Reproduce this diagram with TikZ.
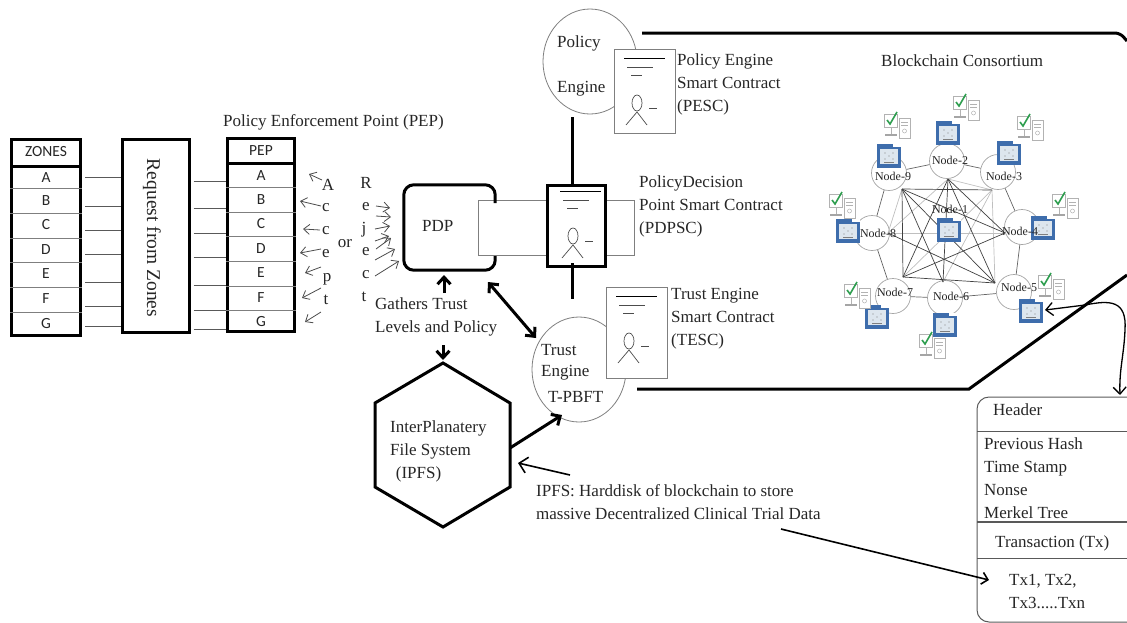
\documentclass[tikz,border=0pt]{standalone}
\usepackage{fontspec}
\setmainfont{Liberation Serif}
\newfontfamily\tablefont{Carlito}
\usetikzlibrary{arrows.meta,shapes.geometric}
\definecolor{inkgray}{HTML}{262626}
\definecolor{thingray}{HTML}{7F7F7F}
\definecolor{netblue}{HTML}{3E6DAC}
\definecolor{netpale}{HTML}{DDE6EE}
\definecolor{netgreen}{HTML}{2E9E4F}
\tikzset{
	label17/.style={inner sep=0pt,anchor=west,align=left,text=inkgray,font=\fontsize{17}{23}\selectfont},
	cell/.style={inner sep=0pt,text=inkgray,font=\tablefont\fontsize{15.5}{18}\selectfont},
	heavybox/.style={draw,line width=3pt,inner sep=0pt},
	thinbox/.style={draw=thingray,line width=0.9pt,fill=white,inner sep=0pt},
	engine/.style={draw=thingray,line width=0.8pt,ellipse,inner sep=0pt,fill=white},
	boldline/.style={line width=3pt},
	boldarrow/.style={line width=3pt,-{Straight Barb[length=7pt,width=13pt]}},
	sketchtip/.style={line width=0.8pt,thingray!60!black,-{Straight Barb[length=6pt,width=10pt]}},
	netnode/.style={draw=thingray!70,line width=0.7pt,circle,minimum size=35pt,inner sep=0pt,fill=white},
	netlabel/.style={inner sep=0pt,text=inkgray,font=\fontsize{12}{14}\selectfont},
	pics/contractmark/.style={code={
		\draw[line width=0.9pt] (10,9) -- (51,9);
		\draw[line width=0.9pt,thingray!60!black] (13,18) -- (39,18);
		\draw[line width=0.9pt,thingray!60!black] (17,26) -- (28,26);
		\draw[thingray!60!black,line width=0.7pt] (23,54) ellipse (5 and 8);
		\draw[line width=0.8pt,thingray!60!black] (35,59) -- (43,59);
		\draw[thingray!60!black,line width=0.7pt] (12,76) -- (23,63) -- (33,76);
	}},
	pics/bluecontract/.style={code={
		\fill[netblue] (-12,-12) rectangle (12,12);
		\fill[netpale] (-9,-7) rectangle (9,8);
		\fill[white] (4,-12) rectangle (12,-9);
		\foreach \dx/\dy in {-4/-3,4/-3,-4/3,4/3,0/0}
			\fill[thingray] (\dx,\dy) circle (0.7);
		\draw[thingray,line width=0.5pt] (-5,6) -- (5,6);
	}},
	pics/checkpc/.style={code={
		\draw[thingray!60,fill=white,line width=0.8pt] (-7,-7) rectangle (6,6);
		\draw[netgreen,line width=1.6pt] (-4,-1) -- (-1,3) -- (6,-9);
		\draw[thingray!60,line width=0.8pt] (0,6) -- (0,13);
		\draw[thingray!70,line width=1.4pt] (-6,14) -- (6,14);
		\draw[thingray!60,fill=white,line width=0.8pt] (8,-3) rectangle (19,17);
		\draw[thingray!60,line width=0.7pt] (10,1) -- (17,1) (10,4) -- (17,4);
		\draw[thingray!60,line width=0.5pt] (13.5,10) circle (2);
	}},
}
\begin{document}
\begin{tikzpicture}[x=1pt,y=-1pt]
	\useasboundingbox (0,0) rectangle (1127,622);
	% zones, request and pep
	\node[heavybox,minimum width=69pt,minimum height=196pt] (zones) at (46,237.5) {};
	\node[heavybox,minimum width=67pt,minimum height=193pt] (request) at (155.5,236) {};
	\node[heavybox,minimum width=67pt,minimum height=193pt] (pep) at (261,235) {};
	\draw[line width=3pt] (zones.west |- 0,166) -- (zones.east |- 0,166);
	\draw[line width=3pt] (pep.west |- 0,163) -- (pep.east |- 0,163);
	\foreach \y in {188,213,238,262,287,312}
		\draw[thingray,line width=0.9pt] (zones.west |- 0,\y) -- (zones.east |- 0,\y);
	\foreach \y in {187,212,236,261,286,310}
		\draw[thingray,line width=0.9pt] (pep.west |- 0,\y) -- (pep.east |- 0,\y);
	\node[cell] (zoneshead) at (46,152) {ZONES};
	\node[cell] (pephead) at (261,151) {PEP};
	\foreach \t/\ya/\yb in {A/178/176,B/201/200,C/225/224,D/250/249,E/274/273,F/299/298,G/324/322} {
		\node[cell] (zone\t) at (46,\ya) {\t};
		\node[cell] (pep\t) at (261,\yb) {\t};
	}
	\foreach \y in {177,206,230,254,282,306,326}
		\draw[line width=0.7pt,thingray!70!black,shorten <=3pt] (zones.east |- 0,\y) -- (request.west |- 0,\y);
	\foreach \y in {181,208,233,257,285,310,329}
		\draw[line width=0.7pt,thingray!70!black,shorten <=3pt] (request.east |- 0,\y) -- (pep.west |- 0,\y);
	\node[inner sep=0pt,rotate=-90,text=inkgray,font=\fontsize{19.5}{22}\selectfont] (reqtext) at (152,238) {Request from Zones};
	\node[label17] (peptitle) at (223,122) {Policy Enforcement Point (PEP)};

	% accept or reject
	\foreach \t/\x/\y [count=\i] in {A/328/185,c/326/208,c/326/231,e/326/254,p/327/279,t/326/300}
		\node[netlabel,font=\fontsize{17}{20}\selectfont] (acc\i) at (\x,\y) {\t};
	\foreach \t/\x/\y [count=\i] in {R/366/183,e/366/207,j/364/230,e/366/252,c/366/275,t/364/297}
		\node[netlabel,font=\fontsize{17}{20}\selectfont] (rej\i) at (\x,\y) {\t};
	\node[netlabel,font=\fontsize{17}{20}\selectfont] (ortext) at (345,244) {or};
	\foreach \a/\b/\c/\d in {322/180/309/174,321/206/300/201,320/230/303/229,321/249/300/253,321/267/305/273,321/288/302/298,321/312/305/322}
		\draw[sketchtip] (\a,\b) -- (\c,\d);
	\foreach \a/\b/\c/\d in {376/206/390/208,376/216/391/217,375/229/390/226,375/241/389/236,376/249/391/238,375/260/395/249,375/276/399/261}
		\draw[sketchtip] (\a,\b) -- (\c,\d);

	% pdp and its contract
	\node[thinbox,minimum width=156pt,minimum height=55pt] (pdpback) at (556,227.5) {};
	\node[minimum width=91pt,minimum height=85pt,inner sep=0pt] (pdp) at (449.5,227.5) {};
	\draw[boldline,rounded corners=10pt] (pdp.east |- 0,203) -- (pdp.north east) -- (pdp.north west) -- (pdp.south west) -- (pdp.south east) -- (pdp.east |- 0,256);
	\node[label17] (pdptext) at (422,226) {PDP};
	\node[heavybox,fill=white,minimum width=58pt,minimum height=81pt] (pdpsc) at (576.5,225.5) {};
	\pic at (550,182) {contractmark};
	\node[label17] (pdpsctext) at (639,206) {PolicyDecision\\Point Smart Contract\\(PDPSC)};

	% policy engine
	\node[engine,minimum width=94pt,minimum height=105pt] (policy) at (590,61.5) {};
	\node[label17] (policytext) at (557,43) {Policy};
	\node[label17] (enginetext) at (557,89) {Engine};
	\node[thinbox,minimum width=61pt,minimum height=84pt] (pesc) at (644.5,91) {};
	\pic at (614,49) {contractmark};
	\node[label17] (pesctext) at (677,84) {Policy Engine\\Smart Contract\\(PESC)};
	\coordinate (polfoot) at (572,117);
	\draw[boldline] (polfoot) -- (polfoot |- pdpsc.north);
	\coordinate (trustfoot) at (572,299);
	\draw[boldline] (trustfoot |- 0,263) -- (trustfoot);

	% trust engine
	\node[engine,minimum width=94pt,minimum height=105pt] (trust) at (579,369.5) {};
	\node[thinbox,minimum width=61pt,minimum height=91pt] (tesc) at (636.5,332.5) {};
	\pic at (606,287) {contractmark};
	\node[label17] (trusttext) at (541,350) {Trust};
	\node[label17] (engtext) at (541,373) {Engine};
	\node[label17] (pbfttext) at (548,397) {T-PBFT};
	\node[label17] (tesctext) at (671,319) {Trust Engine\\Smart Contract\\(TESC)};

	% consortium frame
	\coordinate (frametop) at (642,33);
	\coordinate (framelow) at (637,389);
	\draw[boldline,rounded corners=5pt] (frametop) -- (1120,33) -- (1127,41);
	\draw[boldline] (framelow) -- (969,389) -- (1127,275);
	\node[label17] (chaintitle) at (881,61) {Blockchain Consortium};

	% network
	\foreach \nm/\cx/\cy in {n9/889/173,n2/947/161,n3/998/172,n4/1022/227,n5/1014/292,n6/945/298,n7/893/296,n8/872/233}
		\node[netnode] (\nm) at (\cx,\cy) {};
	\foreach \a/\b in {n9/n2,n2/n3,n3/n4,n4/n5,n5/n6,n6/n7,n7/n8,n8/n9}
		\draw[thingray!80!black,line width=0.7pt] (\a) -- (\b);
	\foreach \nm/\cx/\cy in {p9/902/189,p2/948/179,p3/992/190,p4/1005/233,p5/995/283,p6/943/282,p7/903/277,p8/888/233}
		\coordinate (\nm) at (\cx,\cy);
	\foreach \a/\b in {p3/p7,p8/p4,p2/p8,p3/p5,p6/p3,p2/p3,p9/p8}
		\draw[thingray!50,line width=0.7pt] (\a) -- (\b);
	\foreach \a/\b in {p9/p3,p9/p7,p7/p5,p9/p4,p9/p5,p9/p6,p2/p7,p2/p6,p2/p5,p2/p4,p7/p4,p8/p5}
		\draw[black!75,line width=0.7pt] (\a) -- (\b);
	\foreach \cx/\cy in {889/156,948/133,1009/153,1043/228,1031/311,945/325,877/317,848/231,949/230}
		\pic at (\cx,\cy) {bluecontract};
	\foreach \cx/\cy in {891/121,960/103,1024/123,1059/201,1045/282,926/341,851/291,836/201}
		\pic at (\cx,\cy) {checkpc};
	\foreach \lb/\cx/\cy in {9/893/176,2/950/160,3/1004/176,4/1020/231,5/1019/287,6/951/296,7/895/292,8/878/233,1/950/209}
		\node[netlabel] (lbl\lb) at (\cx,\cy) {Node-\lb};

	% ipfs
	\coordinate (hextop) at (443,363);
	\coordinate (hexright) at (510,448);
	\draw[boldline,line join=miter] (hextop) -- (510,403) -- (510,487) -- (443,527) -- (375,487) -- (375,403) -- cycle;
	\node[label17] (ipfstext) at (390,451) {InterPlanatery\\File System\\\,\,(IPFS)};
	\node[label17] (gatherstext) at (375,316.5) {Gathers Trust\\Levels and Policy};
	\node[label17] (harddisk) at (536,502) {IPFS: Harddisk of blockchain to store\\massive Decentralized Clinical Trial Data};
	\coordinate (gatherslow) at (443,345);
	\coordinate (gathersup) at (444,293);
	\coordinate (pdpfoot) at (444,275);
	\coordinate (pdpcorner) at (488,282);
	\coordinate (trusttip) at (536,338);
	\coordinate (trustbase) at (562,415);
	\draw[boldarrow] (gathersup) -- (pdpfoot);
	\draw[boldarrow,shorten >=3pt] (gatherslow) -- (hextop);
	\draw[boldarrow,{Straight Barb[length=7pt,width=13pt]}-{Straight Barb[length=7pt,width=13pt]}] (pdpcorner) -- (trusttip);
	\draw[boldarrow] (hexright) -- (trustbase);
	\coordinate (harddiskup) at (570,475);
	\coordinate (hexlabeltip) at (518,463);
	\draw[line width=1.6pt,-{Straight Barb[length=8pt,width=16pt]}] (harddiskup) -- (hexlabeltip);

	% block
	\coordinate (blocktop) at (1127,397);
	\coordinate (blocktopleft) at (977,397);
	\coordinate (blocklowleft) at (977,622);
	\coordinate (blocklow) at (1127,622);
	\draw[thingray!70!black,line width=1pt,rounded corners=12pt] (blocktop) -- (blocktopleft) -- (blocklowleft) -- (blocklow);
	\foreach \y/\w in {431/1,522/1.2,558/1}
		\draw[thingray!70!black,line width=\w pt] (blocktopleft |- 0,\y) -- (blocktop |- 0,\y);
	\node[label17] (headertext) at (993,410) {Header};
	\node[label17] (fieldtext) at (984,478.5) {Previous Hash\\Time Stamp\\Nonse\\Merkel Tree};
	\node[label17] (txtitle) at (995,543) {Transaction (Tx)};
	\node[label17] (txtext) at (1009,591.5) {Tx1, Tx2,\\Tx3.....Txn};
	\coordinate (diskarrow) at (781,529);
	\coordinate (txtip) at (989,580);
	\draw[line width=1.6pt,-{Straight Barb[length=6pt,width=12pt]}] (diskarrow) -- (txtip);
	\coordinate (icontip) at (1045,310);
	\coordinate (blocktip) at (1120,395);
	\draw[line width=1.3pt,{Straight Barb[length=7pt,width=13pt]}-{Straight Barb[length=7pt,width=13pt]}] (icontip) -- (1085,305) .. controls (1110,300) and (1127,300) .. (1125,330) .. controls (1124,355) and (1119,370) .. (blocktip);
\end{tikzpicture}
\end{document}
